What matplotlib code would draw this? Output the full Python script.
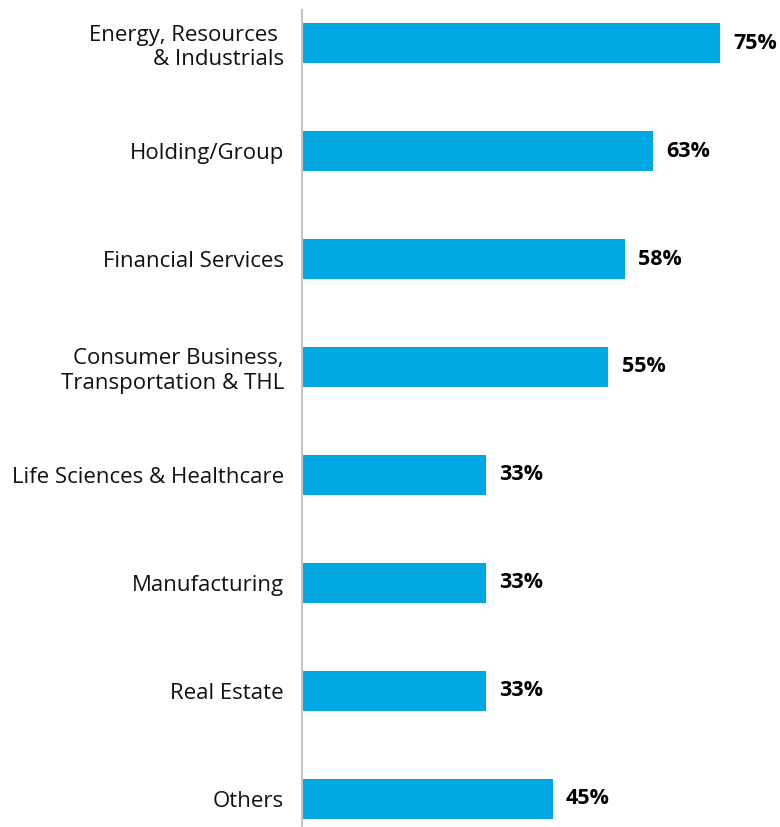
import matplotlib.pyplot as plt

# sector share, top to bottom
sectors = ['Energy, Resources \n& Industrials', 'Holding/Group', 'Financial Services',
           'Consumer Business,\nTransportation & THL', 'Life Sciences & Healthcare',
           'Manufacturing', 'Real Estate', 'Others']
shares = [75, 63, 58, 55, 33, 33, 33, 45]

plt.rcParams['font.family'] = ['Open Sans', 'DejaVu Sans']

fig = plt.figure(figsize=(7.8, 8.27), dpi=100)
ax = fig.add_axes([302 / 780, 0, 478 / 780, 817 / 827])

pos = list(range(len(sectors)))
ax.barh(pos, shares, height=0.37, color='#00a8e3')

for y, v in zip(pos, shares):
    ax.text(v + 2.4, y, f'{v}%', va='center', ha='left', fontsize=15.5,
            fontweight='bold', color='black')

ax.set_xlim(0, 85.8)
ax.set_ylim(7.26, -0.306)
ax.set_yticks(pos)
ax.set_yticklabels(sectors, fontsize=16, ha='right', color='#111111')
ax.tick_params(axis='y', length=0, pad=13)
ax.set_xticks([])

for side in ['top', 'right', 'bottom']:
    ax.spines[side].set_visible(False)
ax.spines['left'].set_color('#c4c4c4')
ax.spines['left'].set_linewidth(1.5)

fig.savefig('out.png', dpi=100)
